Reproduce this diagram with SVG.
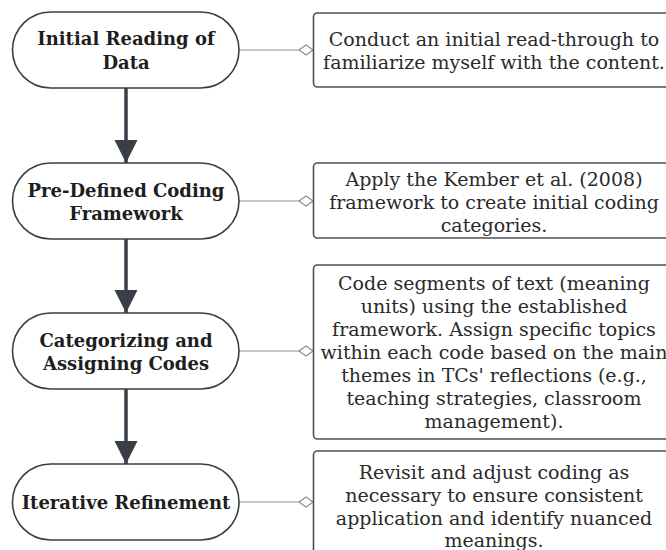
<svg xmlns="http://www.w3.org/2000/svg" width="666" height="550" viewBox="0 0 666 550">
<style>
.node{fill:#fff;stroke:#3a3f47;stroke-width:1.6}
.box{fill:#fff;stroke:#4a5058;stroke-width:1.6}
.nt{font-family:"DejaVu Serif","Liberation Serif",serif;font-weight:bold;font-size:18px;fill:#1e1e1e;text-anchor:middle}
.bt{font-family:"DejaVu Serif","Liberation Serif",serif;font-size:19px;fill:#2a2a2a;text-anchor:middle}
.link{stroke:#8a8e94;stroke-width:1.2;fill:none}
.flow{stroke:#3a3f47;stroke-width:3.5;fill:none}
</style>
<defs>
<marker id="dia" markerWidth="16" markerHeight="12" refX="15" refY="6" orient="auto" markerUnits="userSpaceOnUse">
<path d="M1,6 L8,1 L15,6 L8,11 Z" fill="#fff" stroke="#8a8e94" stroke-width="1.2"/>
</marker>
<marker id="arr" markerWidth="24" markerHeight="34" refX="23" refY="11.5" orient="auto" markerUnits="userSpaceOnUse">
<path d="M0,0 L23,11.5 L0,23 Z" fill="#3a3f47"/>
</marker>
</defs>
<g id="connectors">
<line class="flow" x1="126" y1="88" x2="126" y2="163" marker-end="url(#arr)"/>
<line class="flow" x1="126" y1="239" x2="126" y2="313" marker-end="url(#arr)"/>
<line class="flow" x1="126" y1="389" x2="126" y2="464" marker-end="url(#arr)"/>
<line class="link" x1="239" y1="50" x2="313" y2="50" marker-end="url(#dia)"/>
<line class="link" x1="239" y1="201" x2="313" y2="201" marker-end="url(#dia)"/>
<line class="link" x1="239" y1="351" x2="313" y2="351" marker-end="url(#dia)"/>
<line class="link" x1="239" y1="502" x2="313" y2="502" marker-end="url(#dia)"/>
</g>
<g id="n1">
<rect class="node" x="12.5" y="12" width="226.5" height="76" rx="38"/>
<text class="nt" x="126" y="45">Initial Reading of</text>
<text class="nt" x="126" y="69">Data</text>
</g>
<g id="n2">
<rect class="node" x="12.5" y="163" width="226.5" height="76" rx="38"/>
<text class="nt" x="126" y="197">Pre-Defined Coding</text>
<text class="nt" x="126" y="220">Framework</text>
</g>
<g id="n3">
<rect class="node" x="12.5" y="313" width="226.5" height="76" rx="38"/>
<text class="nt" x="126" y="347">Categorizing and</text>
<text class="nt" x="126" y="370">Assigning Codes</text>
</g>
<g id="n4">
<rect class="node" x="12.5" y="464" width="226.5" height="76" rx="38"/>
<text class="nt" x="126" y="509">Iterative Refinement</text>
</g>
<g id="b1">
<rect class="box" x="313.5" y="13" width="362" height="74" rx="4"/>
<text class="bt" x="494" y="46">Conduct an initial read-through to</text>
<text class="bt" x="494" y="69">familiarize myself with the content.</text>
</g>
<g id="b2">
<rect class="box" x="313.5" y="163" width="362" height="75" rx="4"/>
<text class="bt" x="494" y="186">Apply the Kember et al. (2008)</text>
<text class="bt" x="494" y="209">framework to create initial coding</text>
<text class="bt" x="494" y="232">categories.</text>
</g>
<g id="b3">
<rect class="box" x="313.5" y="265" width="362" height="174" rx="4"/>
<text class="bt" x="494" y="290">Code segments of text (meaning</text>
<text class="bt" x="494" y="313">units) using the established</text>
<text class="bt" x="494" y="336">framework. Assign specific topics</text>
<text class="bt" x="494" y="359">within each code based on the main</text>
<text class="bt" x="494" y="382">themes in TCs' reflections (e.g.,</text>
<text class="bt" x="494" y="405">teaching strategies, classroom</text>
<text class="bt" x="494" y="428">management).</text>
</g>
<g id="b4">
<rect class="box" x="313.5" y="451" width="362" height="110" rx="4"/>
<text class="bt" x="494" y="479">Revisit and adjust coding as</text>
<text class="bt" x="494" y="502">necessary to ensure consistent</text>
<text class="bt" x="494" y="525">application and identify nuanced</text>
<text class="bt" x="494" y="547">meanings.</text>
</g>
</svg>
